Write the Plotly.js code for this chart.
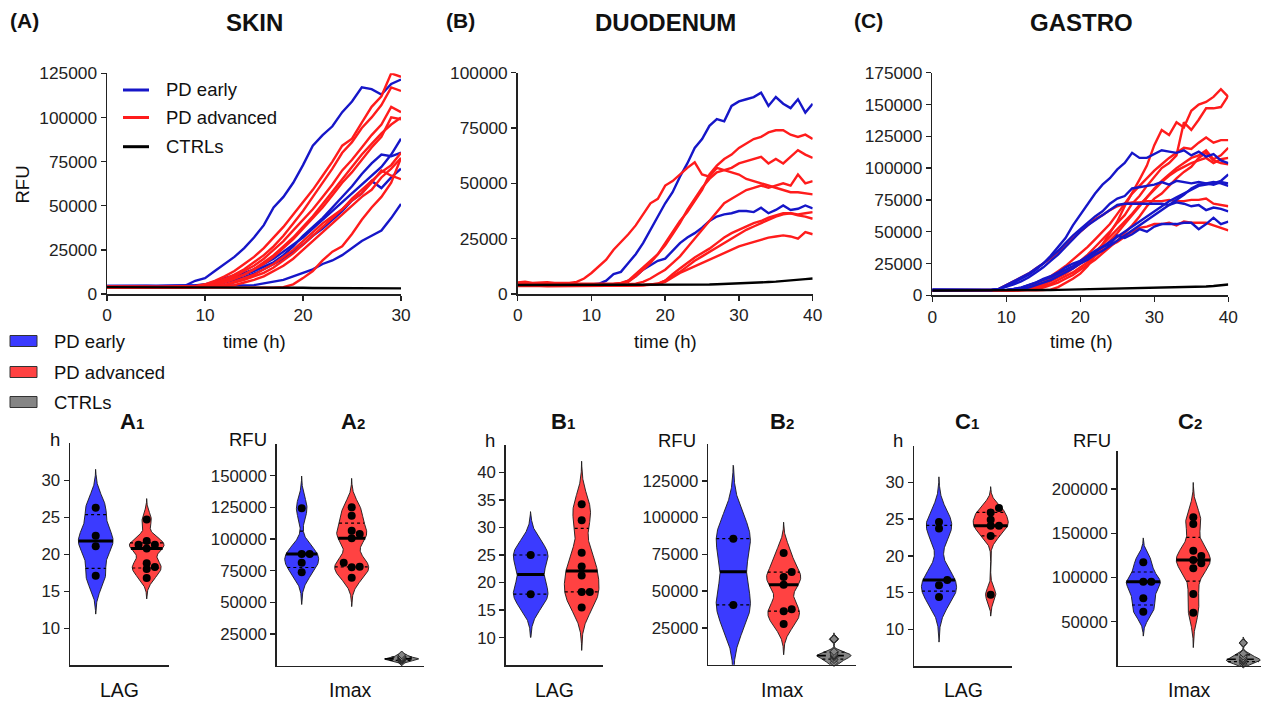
<!DOCTYPE html>
<html><head><meta charset="utf-8">
<script src="https://cdn.plot.ly/plotly-3.0.1.min.js"></script>
<style>html,body{margin:0;padding:0;background:#fff}#chart{width:1268px;height:703px}</style>
</head><body><div id="chart"></div>
<script>
// ================= DATA =================
// Kinetic curves, RFU in thousands (kRFU), one value per hour
const skinTime = [0,1,2,3,4,5,6,7,8,9,10,11,12,13,14,15,16,17,18,19,20,21,22,23,24,25,26,27,28,29,30];
const gutTime = [0,1,2,3,4,5,6,7,8,9,10,11,12,13,14,15,16,17,18,19,20,21,22,23,24,25,26,27,28,29,30,31,32,33,34,35,36,37,38,39,40];

const skinEarly_kRFU = [
 [4.5,4.6,4.5,4.6,4.5,4.4,4.5,4.6,4.8,7.5, 9,13,17,21,26,32,39,49,55,63, 73,84,90,95,103,109,117,116,113,119, 121.5],
 [4.5,4.5,4.4,4.5,4.4,4.4,4.5,4.5,4.6,4.8, 5.5,7,9,10.5,12,14,17,20,24,28, 32,37,42,47,52,57,62,67,72,79, 88],
 [4.4,4.5,4.4,4.4,4.3,4.4,4.4,4.5,4.5,4.6, 5,6.5,8,9.5,11,13,15.5,18,22,27, 33,38,43,49,55,61,68,74,79,78, 80],
 [4.4,4.4,4.3,4.4,4.3,4.3,4.4,4.4,4.5,4.5, 4.8,5.5,6.5,8,9.5,11.5,14,17,20,24, 28,33,37,42,47,53,57,64,60,66, 71],
 [4.3,4.4,4.3,4.3,4.3,4.2,4.3,4.3,4.3,4.4, 4.4,4.5,4.5,4.6,4.7,5,6,7,8,10, 12,14,17,19,22,26,30,33,36,43, 51]
];
const skinAdvanced_kRFU = [
 [4.2,4.3,4.2,4.1,4.2,4.0,4.1,4.1,4.2,4.4, 5.5,7.5,10,13,17,21,26,32,38,45, 52,59,67,75,84,88,97,106,112,125, 123],
 [4.1,4.1,4.0,4.0,3.9,4.0,4.0,4.1,4.2,4.3, 5,6.5,8.5,11,14,18,22,27,33,40, 47,55,63,71,80,86,94,100,107,117, 115],
 [4.0,4.0,4.1,3.9,3.9,3.9,4.0,4.0,4.1,4.2, 5,6,8,10,13,16,20,25,30,36, 42,48,55,62,70,76,83,90,96,106, 103],
 [4.0,3.9,3.9,3.8,3.8,3.8,3.9,3.9,4.0,4.1, 4.5,5.5,7,9,11,14,18,22,27,32, 38,44,51,58,65,72,79,85,91,96, 100],
 [3.9,3.9,3.8,3.8,3.8,3.7,3.8,3.8,3.9,4.0, 4.4,5,6.5,8.5,11,14,17,21,26,31, 37,43,49,56,63,69,76,83,89,100, 99],
 [3.9,3.8,3.8,3.7,3.7,3.7,3.8,3.8,3.8,3.9, 4.1,4.4,5,6.5,8,10,12,15,19,23, 28,33,38,43,48,54,59,64,69,73, 80],
 [3.8,3.8,3.7,3.7,3.6,3.6,3.7,3.7,3.7,3.8, 3.9,4.1,4.4,5,6.5,8,10,13,16,20, 25,30,35,40,45,50,55,59,66,71, 77],
 [3.8,3.7,3.7,3.6,3.6,3.6,3.6,3.7,3.7,3.8, 4.0,4.3,5,7,9,11,14,17,21,25, 30,35,40,44,48,53,57,63,70,67, 65],
 [3.7,3.7,3.6,3.6,3.5,3.5,3.5,3.5,3.5,3.5, 3.5,3.4,3.4,3.4,3.4,3.4,3.5,3.6,3.9,5.5, 9,13,19,24,27,34,42,49,55,63, 77]
];
const skinCtrl_kRFU = [
 [3.9,3.9,3.9,3.9,3.8,3.8,3.8,3.8,3.8,3.7, 3.7,3.7,3.7,3.6,3.6,3.6,3.6,3.5,3.5,3.5, 3.5,3.4,3.4,3.4,3.4,3.3,3.3,3.3,3.3,3.2, 3.2]
];

const duoEarly_kRFU = [
 [4.3,4.4,4.3,4.2,4.3,4.2,4.2,4.3,4.2,4.2, 4.3,4.6,6,9,10,14,18,23,29,35, 41,46,53,59,66,70,76,79,78,85, 87,88,89,91,85,89,86,84,88,82, 86],
 [4.0,4.1,4.0,4.0,4.0,3.9,4.0,4.0,3.9,4.0, 4.0,4.0,4.1,4.2,4.6,6,8,11,13,15, 16,19.5,23,25.5,27.5,30,33,35,36,36.5, 37.5,37.5,37,39,36.5,38,40,38,38.5,40, 38.7]
];
const duoAdvanced_kRFU = [
 [5.2,5.5,5.0,5.1,5.3,5.0,5.1,5.0,5.5,7, 9.5,12.5,15.5,20,23.5,27,31,36,41,43, 49,51,54,57,59.5,54,53,57,56,55, 54,52,51,50,49,48,47,46,46,45.5, 45],
 [4.8,4.9,4.7,4.8,4.8,4.7,4.7,4.8,4.7,4.7, 4.6,4.6,4.6,4.7,5.0,6.0,9,12,15,18, 23,28,33,37,42,47,54,58,61,63, 66,68,70,71,73,74,74,72,71,72, 70],
 [4.5,4.6,4.5,4.5,4.4,4.4,4.5,4.4,4.4,4.4, 4.3,4.3,4.4,4.5,4.8,5.5,8,11,14,18, 22,27,32,38,43,48,52,55,56,57, 59,60,61,62,59,61,59,62,65,63, 61.5],
 [4.2,4.3,4.2,4.2,4.1,4.1,4.2,4.1,4.1,4.1, 4.0,4.0,4.0,4.1,4.2,4.4,4.7,5.5,7,9, 11,14,17,21,25,29,33,37,41,43, 45,47,48,49,48,49,50,49,54,50, 51],
 [4.0,4.1,4.0,3.9,3.9,3.9,3.9,3.9,3.8,3.8, 3.8,3.8,3.8,3.8,3.9,3.9,4.0,4.1,4.3,4.6, 6,9,11.5,14,16.5,18.5,20.5,23,25.5,27.5, 29,30.5,32,33,34.5,35.5,36.5,36.5,36,36.5, 37],
 [3.8,3.9,3.8,3.8,3.7,3.7,3.7,3.7,3.7,3.6, 3.6,3.6,3.6,3.7,3.7,3.8,3.9,4.0,4.2,4.6, 6,8,10,12.5,15,17,19,21,23,25, 27,29,30.5,32,33.5,35,36,36.5,35.5,35, 34],
 [3.6,3.7,3.6,3.6,3.5,3.5,3.5,3.5,3.5,3.5, 3.5,3.5,3.5,3.6,3.6,3.7,3.8,3.9,4.1,4.4, 5.5,7.5,9.5,11,12.5,14,15.5,17,18.5,20, 21.5,22.5,23.5,24.5,25.5,26,26.5,26,25,28, 27]
];
const duoCtrl_kRFU = [
 [4.1,4.1,4.0,4.1,4.0,4.1,4.0,4.0,4.1,4.0, 4.0,4.1,4.0,4.0,4.1,4.0,4.0,4.1,4.0,4.1, 4.1,4.1,4.1,4.1,4.1,4.2,4.3,4.4,4.5,4.6, 4.7,4.9,5.0,5.2,5.4,5.6,5.8,6.1,6.4,6.7, 7.0]
];

const gasEarly_kRFU = [
 [4.5,4.4,4.4,4.3,4.3,4.2,4.2,4.2,4.3,5, 7,10,13,16,20,25,31,38,45,55, 63,71,80,87,92,99,104,112,108,108, 111,114,113,112,114,110,113,109,111,106, 104],
 [4.4,4.3,4.3,4.2,4.2,4.2,4.1,4.1,4.2,5, 8,11,14,17,21,25,30,35,41,47, 52,57,62,66,72,76,78,84,85,86, 87,89,87,90,89,88,89,88,89,88, 86],
 [4.3,4.3,4.2,4.2,4.1,4.1,4.1,4.1,4.2,4.8, 6.5,8.5,11,14,18,22,27,32,38,44, 50,55,59,63,67,71,72,72,72,72, 72,72,71,73,72,70,71,67,69,68, 66],
 [4.2,4.2,4.1,4.1,4.0,4.0,4.0,4.0,4.0,4.1, 4.3,5,6,8,10,12,14,17,20,23, 27,30,34,38,42,46,50,54,58,62, 66,70,74,77,80,83,86,87,88,90, 95],
 [4.1,4.1,4.0,4.0,3.9,3.9,3.9,3.9,4.0,4.0, 4.3,5,6,8,10,13,15,18,22,25, 27,31,35,38,40,47,45,48,52,50, 54,56,56,56,57,57,52,56,61,56, 58],
 [4.0,4.0,3.9,3.9,3.9,3.9,3.8,3.8,3.9,3.9, 4.0,4.3,5,6,8,10,12,15,18,21, 25,28,32,35,39,43,47,51,55,59, 63,67,71,75,79,84,87,88,87,89, 88]
];
const gasAdvanced_kRFU = [
 [3.6,3.6,3.5,3.5,3.5,3.5,3.4,3.4,3.4,3.4, 3.5,3.5,3.6,3.7,3.9,4.1,4.5,6.5,9.5,13, 17,23,31,40,49,58,70,80,91,102, 118,130,126,136,132,145,150,152,156,162, 156],
 [3.9,3.9,3.8,3.8,3.8,3.7,3.7,3.7,3.7,3.8, 3.9,4.1,4.4,5,7,9,12,15,18,22, 27,32,38,44,50,57,63,72,78,86, 93,100,104,110,136,130,138,147,147,148, 157],
 [3.8,3.8,3.7,3.7,3.7,3.6,3.6,3.6,3.7,3.8, 4.0,4.4,5,7,9,12,15,19,23,28, 33,38,44,50,56,64,72,80,86,92, 98,103,108,112,116,115,120,124,120,122, 122],
 [3.7,3.7,3.6,3.6,3.6,3.5,3.5,3.5,3.6,3.6, 3.8,4.0,4.4,5,6,8,11,14,17,21, 25,29,34,40,46,52,58,64,71,77, 84,90,95,100,104,108,110,114,107,110, 116],
 [3.6,3.6,3.5,3.5,3.5,3.4,3.4,3.4,3.5,3.5, 3.7,3.9,4.3,5,6,7,9,12,15,18, 22,26,31,37,43,49,56,63,70,77, 83,89,94,98,101,104,106,108,104,107, 108],
 [4.2,4.2,4.1,4.1,4.0,4.0,4.0,4.0,4.2,5, 8,11,14,17,21,25,29,34,40,45, 50,55,60,63,67,70,72,73,73,74, 74,74,75,74,74,75,75,76,72,71, 70],
 [3.9,3.9,3.8,3.8,3.8,3.7,3.7,3.7,3.8,3.8, 4.0,4.4,5,6,8,10,13,16,19,22, 25,28,31,35,39,42,46,50,53,54, 56,56,57,55,58,57,57,57,55,53, 51],
 [3.5,3.5,3.4,3.4,3.4,3.3,3.3,3.3,3.4,3.4, 3.5,3.7,4.0,4.4,5,6,8,10,13,16, 20,24,28,33,38,43,49,55,62,70, 76,80,86,92,97,101,108,112,106,104, 103]
];
const gasCtrl_kRFU = [
 [3.8,3.8,3.8,3.7,3.7,3.7,3.7,3.7,3.7,3.8, 3.8,3.9,3.9,4.0,4.0,4.1,4.2,4.3,4.4,4.5, 4.6,4.7,4.8,4.9,5.0,5.1,5.2,5.3,5.4,5.5, 5.6,5.8,5.9,6.0,6.2,6.4,6.6,6.9,7.3,7.8, 8.5]
];

// Violin data: LAG (h) and Imax (RFU)
const skinLagEarly = [26.3, 22.5, 21.1, 17.1];
const skinLagAdvanced = [24.7, 21.8, 21.3, 21.3, 20.8, 18.8, 18.3, 18.0, 16.8];
const skinImaxEarly = [124300, 88200, 88200, 81300, 73700];
const skinImaxAdvanced = [125000, 118400, 106600, 104000, 100600, 81300, 78200, 77700, 69500];
const skinImaxCtrl = [3000, 4000, 4800, 5200, 5600, 6200, 7000, 8500];

const duoLagEarly = [25.0, 17.9];
const duoLagAdvanced = [34.2, 31.3, 25.4, 22.9, 21.3, 18.3, 18.3, 15.5];
const duoImaxEarly = [85700, 40700];
const duoImaxAdvanced = [75900, 63000, 59600, 54400, 37700, 36400, 27800];
const duoImaxCtrl = [1500, 3500, 5000, 6000, 6500, 7500, 9000, 17500];

const gasLagEarly = [24.6, 23.7, 16.7, 16.0, 14.4];
const gasLagAdvanced = [26.5, 25.9, 24.9, 24.1, 24.1, 22.7, 14.7];
const gasImaxEarly = [117100, 95200, 95200, 76400, 61300];
const gasImaxAdvanced = [168000, 160400, 130200, 124200, 119700, 116000, 110300, 81300, 60100];
const gasImaxCtrl = [2000, 4000, 5500, 6500, 7500, 9000, 11000, 14000, 26000];

const groupNames = ['PD early', 'PD advanced', 'CTRLs'];

// ================= STYLE =================
const W = 1268, H = 703;
const FONT = 'Liberation Sans, Arial, Helvetica, sans-serif';
const LINE_BLUE = '#1616c8', LINE_RED = '#ff1c1c', LINE_BLACK = '#000000';
const FILL_BLUE = '#3b3bff', FILL_RED = '#ff4242', FILL_GREY = '#858585';
const KRFU = 1000; // unit conversion kRFU -> RFU
const px = x => x / W, py = y => 1 - y / H;

const traces = [];

function addLines(series, time, color, xa, ya, name) {
  series.forEach(s => traces.push({
    type: 'scatter', mode: 'lines', x: time, y: s.map(v => v * KRFU),
    xaxis: xa, yaxis: ya, name: name, showlegend: false, hoverinfo: 'skip',
    line: { color: color, width: 2.4 }
  }));
}
addLines(skinEarly_kRFU, skinTime, LINE_BLUE, 'x', 'y', groupNames[0]);
addLines(skinAdvanced_kRFU, skinTime, LINE_RED, 'x', 'y', groupNames[1]);
addLines(skinCtrl_kRFU, skinTime, LINE_BLACK, 'x', 'y', groupNames[2]);
addLines(duoEarly_kRFU, gutTime, LINE_BLUE, 'x2', 'y2', groupNames[0]);
addLines(duoAdvanced_kRFU, gutTime, LINE_RED, 'x2', 'y2', groupNames[1]);
addLines(duoCtrl_kRFU, gutTime, LINE_BLACK, 'x2', 'y2', groupNames[2]);
addLines(gasAdvanced_kRFU, gutTime, LINE_RED, 'x3', 'y3', groupNames[1]);
addLines(gasEarly_kRFU, gutTime, LINE_BLUE, 'x3', 'y3', groupNames[0]);
addLines(gasCtrl_kRFU, gutTime, LINE_BLACK, 'x3', 'y3', groupNames[2]);

// ---- violins (kernel density computed from the data) ----
function quant(s, p) {
  const n = s.length, pos = (n + 1) * p;
  if (pos <= 1) return s[0];
  if (pos >= n) return s[n - 1];
  const i = Math.floor(pos), f = pos - i;
  return s[i - 1] + f * (s[i] - s[i - 1]);
}
function sdev(a) {
  const m = a.reduce((t, v) => t + v, 0) / a.length;
  return Math.sqrt(a.reduce((t, v) => t + (v - m) * (v - m), 0) / (a.length - 1));
}
function addViolin(vals, pos, fill, xa, ya, pxPerY, pxPerX, isCtrl, name) {
  const s = [...vals].sort((a, b) => a - b);
  const q1 = quant(s, 0.25), med = quant(s, 0.5), q3 = quant(s, 0.75);
  let h = 0.6 * Math.min(sdev(s), (q3 - q1) / 1.34) * Math.pow(s.length, -0.2);
  if (!(h > 0)) h = 0.6 * sdev(s) * Math.pow(s.length, -0.2);
  const dens = y => s.reduce((t, v) => t + Math.exp(-0.5 * ((y - v) / h) * ((y - v) / h)), 0);
  const lo = s[0] - 3 * h, hi = s[s.length - 1] + 3 * h, N = 260;
  const ys = [], ds = [];
  for (let i = 0; i <= N; i++) { const y = lo + (hi - lo) * i / N; ys.push(y); ds.push(dens(y)); }
  const maxD = Math.max(...ds), HALF = 0.34;
  const xs = [], yy = [];
  for (let i = 0; i <= N; i++) { xs.push(pos + HALF * ds[i] / maxD); yy.push(ys[i]); }
  for (let i = N; i >= 0; i--) { xs.push(pos - HALF * ds[i] / maxD); yy.push(ys[i]); }
  traces.push({ type: 'scatter', mode: 'lines', x: xs, y: yy, xaxis: xa, yaxis: ya, fill: 'toself',
    fillcolor: fill, line: { color: '#1a1a1a', width: 0.9 }, hoverinfo: 'skip', showlegend: false, name: name });
  const seg = (y, width, dash) => {
    const w = HALF * dens(y) / maxD;
    traces.push({ type: 'scatter', mode: 'lines', x: [pos - w, pos + w], y: [y, y], xaxis: xa, yaxis: ya,
      line: { color: '#000', width: width, dash: dash }, hoverinfo: 'skip', showlegend: false });
  };
  seg(q1, 1.2, 'dot'); seg(q3, 1.2, 'dot'); seg(med, isCtrl ? 1.6 : 3, isCtrl ? 'dash' : 'solid');
  if (isCtrl) {
    // control points sit on the centre line
    traces.push({ type: 'scatter', mode: 'markers', x: s.map(() => pos), y: s, xaxis: xa, yaxis: ya,
      hoverinfo: 'skip', showlegend: false, cliponaxis: false,
      marker: { symbol: 'diamond', size: 6, color: FILL_GREY, line: { color: '#222', width: 1 } } });
    return;
  }
  // simple beeswarm so overlapping dots sit side by side
  const placed = [], step = 0.16, minDist = 5.6;
  const order = [0, 1, -1, 2, -2, 3, -3];
  s.forEach(v => {
    for (const k of order) {
      const dx = k * step;
      const ok = placed.every(p => Math.hypot((p.dx - dx) * pxPerX, (p.v - v) * pxPerY) >= minDist);
      if (ok) { placed.push({ v: v, dx: dx }); break; }
    }
  });
  traces.push({ type: 'scatter', mode: 'markers', x: placed.map(p => pos + p.dx), y: placed.map(p => p.v),
    xaxis: xa, yaxis: ya, hoverinfo: 'skip', showlegend: false, cliponaxis: false,
    marker: { size: 8, color: '#000' } });
}

// violin panels: axes, domains (px), ranges
const vPanels = [
  { xa: 'x4', ya: 'y4', xd: [70, 169], yd: [665.3, 443.3], xr: [-0.504, 1.437], yr: [5, 35], tv: [10, 15, 20, 25, 30],
    groups: [skinLagEarly, skinLagAdvanced] },
  { xa: 'x5', ya: 'y5', xd: [276.7, 424], yd: [665.7, 444], xr: [-0.5, 2.446], yr: [0, 175000], tv: [25000, 50000, 75000, 100000, 125000, 150000],
    groups: [skinImaxEarly, skinImaxAdvanced, skinImaxCtrl] },
  { xa: 'x6', ya: 'y6', xd: [505.7, 603.3], yd: [665.3, 444.7], xr: [-0.49, 1.424], yr: [5, 45], tv: [10, 15, 20, 25, 30, 35, 40],
    groups: [duoLagEarly, duoLagAdvanced] },
  { xa: 'x7', ya: 'y7', xd: [708.3, 856], yd: [664.8, 444], xr: [-0.497, 2.437], yr: [0, 150000], tv: [25000, 50000, 75000, 100000, 125000],
    groups: [duoImaxEarly, duoImaxAdvanced, duoImaxCtrl] },
  { xa: 'x8', ya: 'y8', xd: [914, 1012.3], yd: [666, 445.6], xr: [-0.484, 1.418], yr: [5, 35], tv: [10, 15, 20, 25, 30],
    groups: [gasLagEarly, gasLagAdvanced] },
  { xa: 'x9', ya: 'y9', xd: [1117.7, 1260.7], yd: [665.9, 451], xr: [-0.512, 2.348], yr: [0, 243000], tv: [50000, 100000, 150000, 200000],
    groups: [gasImaxEarly, gasImaxAdvanced, gasImaxCtrl] }
];
const fills = [FILL_BLUE, FILL_RED, FILL_GREY];
vPanels.forEach(p => {
  const pxPerY = (p.yd[0] - p.yd[1]) / (p.yr[1] - p.yr[0]);
  const pxPerX = (p.xd[1] - p.xd[0]) / (p.xr[1] - p.xr[0]);
  p.groups.forEach((g, i) => addViolin(g, i, fills[i], p.xa, p.ya, pxPerY, pxPerX, i === 2, groupNames[i]));
});

// ================= LAYOUT =================
function axis(extra) {
  return Object.assign({ showline: true, linecolor: '#222', linewidth: 1.5, ticks: 'outside', ticklen: 5,
    tickwidth: 1.5, tickcolor: '#222', showgrid: false, zeroline: false, fixedrange: true,
    tickfont: { family: FONT, size: 17.3, color: '#222' } }, extra);
}
const layout = {
  width: W, height: H, margin: { l: 0, r: 0, t: 0, b: 0 }, paper_bgcolor: '#fff', plot_bgcolor: 'rgba(0,0,0,0)',
  showlegend: false, font: { family: FONT, color: '#111' },
  xaxis: axis({ domain: [px(107), px(401)], range: [0, 30], tickvals: [0, 10, 20, 30], anchor: 'y' }),
  yaxis: axis({ domain: [py(294), py(73.3)], range: [0, 125000], tickvals: [0, 25000, 50000, 75000, 100000, 125000], tickformat: 'd', anchor: 'x' }),
  xaxis2: axis({ domain: [px(517.7), px(812.7)], range: [0, 40], tickvals: [0, 10, 20, 30, 40], anchor: 'y2' }),
  yaxis2: axis({ domain: [py(294), py(72.7)], range: [0, 100000], tickvals: [0, 25000, 50000, 75000, 100000], tickformat: 'd', anchor: 'x2' }),
  xaxis3: axis({ domain: [px(932.3), px(1228.3)], range: [0, 40], tickvals: [0, 10, 20, 30, 40], anchor: 'y3' }),
  yaxis3: axis({ domain: [py(295.3), py(72.7)], range: [0, 175000], tickvals: [0, 25000, 50000, 75000, 100000, 125000, 150000, 175000], tickformat: 'd', anchor: 'x3' }),
  annotations: [], shapes: []
};
vPanels.forEach((p, i) => {
  const n = i + 4;
  layout['xaxis' + n] = axis({ domain: [px(p.xd[0]), px(p.xd[1])], range: p.xr, ticks: '', showticklabels: false, anchor: 'y' + n });
  layout['yaxis' + n] = axis({ domain: [py(p.yd[0]), py(p.yd[1])], range: p.yr, tickvals: p.tv, tickformat: 'd', anchor: 'x' + n,
    tickfont: { family: FONT, size: 16.8, color: '#222' } });
});

function ann(text, x, y, size, extra) {
  return Object.assign({ text: text, x: px(x), y: py(y), xref: 'paper', yref: 'paper', showarrow: false,
    xanchor: 'center', yanchor: 'middle', font: { family: FONT, size: size, color: '#111' } }, extra || {});
}
const A = layout.annotations;
A.push(ann('<b>(A)</b>', 24, 20, 21), ann('<b>(B)</b>', 460, 20, 21), ann('<b>(C)</b>', 868, 20, 21));
A.push(ann('<b>SKIN</b>', 254.5, 23, 24), ann('<b>DUODENUM</b>', 665, 22, 24), ann('<b>GASTRO</b>', 1081, 22, 24));
A.push(ann('RFU', 22.5, 185, 18.5, { textangle: -90 }));
A.push(ann('time (h)', 254, 341, 18.5), ann('time (h)', 665, 341, 18.5), ann('time (h)', 1081, 341, 18.5));
// line legend (panel A)
const legLines = [[LINE_BLUE, 90], [LINE_RED, 117.5], [LINE_BLACK, 146.7]];
legLines.forEach((l, i) => {
  layout.shapes.push({ type: 'line', xref: 'paper', yref: 'paper', x0: px(123), x1: px(149), y0: py(l[1]), y1: py(l[1]), line: { color: l[0], width: 3 } });
  A.push(ann(groupNames[i], 164, l[1], 18.5, { xanchor: 'left' }));
});
// box legend
const legBoxes = [[FILL_BLUE, 341], [FILL_RED, 372], [FILL_GREY, 402]];
legBoxes.forEach((b, i) => {
  layout.shapes.push({ type: 'rect', xref: 'paper', yref: 'paper', x0: px(10), x1: px(37), y0: py(b[1] + 5.5), y1: py(b[1] - 5.5), fillcolor: b[0], line: { color: '#333', width: 1 } });
  A.push(ann(groupNames[i], 52, b[1], 18.5, { xanchor: 'left' }));
});
// violin panel titles and labels
const sub = (L, d) => '<b>' + L + '<span style="font-size:15px">' + d + '</span></b>';
A.push(ann(sub('A', '1'), 132, 421, 22), ann(sub('A', '2'), 352.5, 421, 22), ann(sub('B', '1'), 563, 421, 22),
       ann(sub('B', '2'), 782, 421, 22), ann(sub('C', '1'), 967, 421, 22), ann(sub('C', '2'), 1189.5, 421, 22));
A.push(ann('h', 55, 439, 18.5), ann('h', 490, 440, 18.5), ann('h', 898, 440, 18.5));
A.push(ann('RFU', 247.5, 439, 18.5), ann('RFU', 677, 440, 18.5), ann('RFU', 1092, 440, 18.5));
A.push(ann('LAG', 119.5, 690, 19.5), ann('LAG', 554.5, 690, 19.5), ann('LAG', 963, 690, 19.5));
A.push(ann('Imax', 350.3, 690, 19.5), ann('Imax', 782, 690, 19.5), ann('Imax', 1189, 690, 19.5));

Plotly.newPlot('chart', traces, layout, { displayModeBar: false, staticPlot: true });
</script>
</body></html>
